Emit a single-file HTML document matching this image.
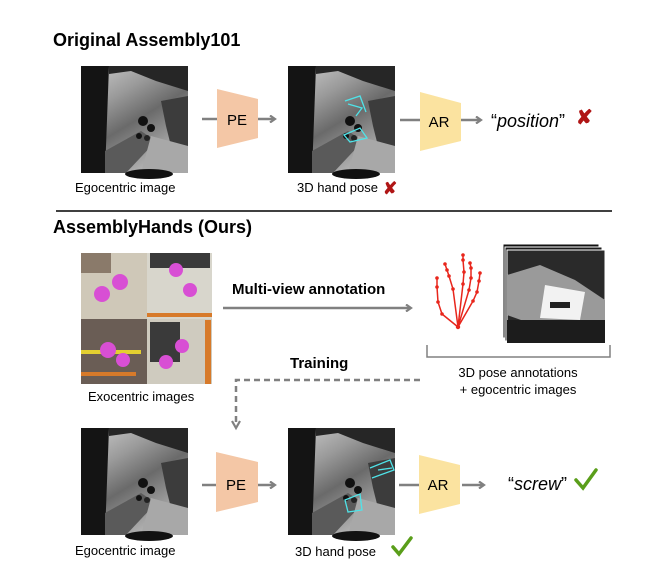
<!DOCTYPE html>
<html><head><meta charset="utf-8"><style>
html,body{margin:0;padding:0;background:#fff;}
svg{display:block;font-family:"Liberation Sans",Arial,sans-serif;}
</style></head><body>
<svg width="649" height="577" viewBox="0 0 649 577" xmlns="http://www.w3.org/2000/svg">
<defs>
<linearGradient id="ego" x1="0" y1="0" x2="0.6" y2="1">
<stop offset="0" stop-color="#d0d0d0"/><stop offset="0.35" stop-color="#9a9a9a"/><stop offset="0.6" stop-color="#6a6a6a"/><stop offset="1" stop-color="#b8b8b8"/>
</linearGradient>
<g id="egoimg">
<rect x="0" y="0" width="107" height="107" fill="url(#ego)"/>
<polygon points="0,0 28,0 24,107 0,107" fill="#141414"/>
<polygon points="28,0 107,0 107,25 75,15 50,5 28,8" fill="#262626"/>
<polygon points="80,35 107,30 107,100 95,100 85,60" fill="#3c3c3c"/>
<polygon points="24,85 60,65 75,75 45,107 24,107" fill="#5a5a5a"/>
<polygon points="70,70 107,80 107,107 60,107" fill="#a8a8a8"/>
<ellipse cx="68" cy="108" rx="24" ry="5" fill="#111"/>
<circle cx="62" cy="55" r="5" fill="#111"/><circle cx="70" cy="62" r="4" fill="#111"/><circle cx="58" cy="70" r="3" fill="#111"/><circle cx="66" cy="72" r="3" fill="#222"/>
</g>
<marker id="ah" markerWidth="8" markerHeight="8" refX="6" refY="4" orient="auto" markerUnits="userSpaceOnUse"><path d="M1,0.5 L6,4 L1,7.5" fill="none" stroke="#808080" stroke-width="2.2"/></marker>
</defs>

<text x="53" y="46" font-size="18" font-weight="bold" fill="#000">Original Assembly101</text>

<!-- top row -->
<use href="#egoimg" x="81" y="66"/>
<line x1="202" y1="119" x2="217" y2="119" stroke="#808080" stroke-width="2.5"/>
<polygon points="217,89 258,99 258,138 217,148" fill="#f4c7a6"/>
<text x="237" y="125" font-size="15" text-anchor="middle" fill="#000">PE</text>
<line x1="258" y1="119" x2="275" y2="119" stroke="#808080" stroke-width="2.5" marker-end="url(#ah)"/>
<use href="#egoimg" x="288" y="66"/>
<path d="M345,101 L360,96 L366,112 M348,104 L362,108 L356,116 M344,135 L360,128 L367,138 L350,142 Z" fill="none" stroke="#4fe3e8" stroke-width="1.3"/>
<line x1="400" y1="120" x2="420" y2="120" stroke="#808080" stroke-width="2.5"/>
<polygon points="420,92 461,103 461,141 420,151" fill="#fbe3a0"/>
<text x="439" y="127" font-size="15" text-anchor="middle" fill="#000">AR</text>
<line x1="461" y1="120" x2="481" y2="120" stroke="#808080" stroke-width="2.5" marker-end="url(#ah)"/>
<text x="491" y="127" font-size="18" fill="#000">“<tspan font-style="italic">position</tspan>”</text>
<text x="576" y="124" font-size="20" font-weight="bold" fill="#b01515">✘</text>
<text x="75" y="192" font-size="13" fill="#000">Egocentric image</text>
<text x="297" y="192" font-size="13" fill="#000">3D hand pose</text>
<text x="383" y="194" font-size="17" font-weight="bold" fill="#b01515">✘</text>

<line x1="56" y1="211" x2="612" y2="211" stroke="#000" stroke-width="1.5"/>

<text x="53" y="233" font-size="18" font-weight="bold" fill="#000">AssemblyHands (Ours)</text>

<!-- exo images -->
<rect x="81" y="253" width="66" height="66" fill="#cfc8b8"/>
<rect x="147" y="253" width="65" height="66" fill="#d8d6cc"/>
<rect x="81" y="319" width="66" height="65" fill="#6a5d55"/>
<rect x="147" y="319" width="65" height="65" fill="#cfcbbf"/>
<rect x="81" y="253" width="30" height="20" fill="#8a7a6a"/>
<rect x="150" y="253" width="60" height="15" fill="#3a3a3a"/>
<rect x="147" y="313" width="65" height="4" fill="#d77a2a"/>
<rect x="81" y="350" width="60" height="4" fill="#e3cf30"/>
<rect x="81" y="372" width="55" height="4" fill="#d77a2a"/>
<rect x="205" y="320" width="6" height="64" fill="#d77a2a"/>
<rect x="150" y="322" width="30" height="40" fill="#3a3a3a"/>
<g fill="#d84fd4">
<circle cx="120" cy="282" r="8"/><circle cx="102" cy="294" r="8"/><circle cx="176" cy="270" r="7"/><circle cx="190" cy="290" r="7"/>
<circle cx="108" cy="350" r="8"/><circle cx="123" cy="360" r="7"/><circle cx="182" cy="346" r="7"/><circle cx="166" cy="362" r="7"/>
</g>
<text x="88" y="401" font-size="13" fill="#000">Exocentric images</text>

<text x="232" y="294" font-size="15" font-weight="bold" fill="#000">Multi-view annotation</text>
<line x1="223" y1="308" x2="411" y2="308" stroke="#808080" stroke-width="2.5" marker-end="url(#ah)"/>

<!-- hand skeleton -->
<g fill="none" stroke="#e8261c" stroke-width="1.5">
<polyline points="437,278 437,287 438,302 442,314 458,327"/>
<polyline points="445,264 447,270 449,276 453,289 458,327"/>
<polyline points="463,255 463,260 464,272 463,284 458,327"/>
<polyline points="470,263 471,268 471,278 469,290 458,327"/>
<polyline points="480,273 479,281 477,292 473,301 458,327"/>
</g>
<g fill="#e8261c">
<circle cx="437" cy="278" r="1.8"/><circle cx="437" cy="287" r="1.8"/><circle cx="438" cy="302" r="1.8"/><circle cx="442" cy="314" r="1.8"/>
<circle cx="445" cy="264" r="1.8"/><circle cx="447" cy="270" r="1.8"/><circle cx="449" cy="276" r="1.8"/><circle cx="453" cy="289" r="1.8"/>
<circle cx="463" cy="255" r="1.8"/><circle cx="463" cy="260" r="1.8"/><circle cx="464" cy="272" r="1.8"/><circle cx="463" cy="284" r="1.8"/>
<circle cx="470" cy="263" r="1.8"/><circle cx="471" cy="268" r="1.8"/><circle cx="471" cy="278" r="1.8"/><circle cx="469" cy="290" r="1.8"/>
<circle cx="480" cy="273" r="1.8"/><circle cx="479" cy="281" r="1.8"/><circle cx="477" cy="292" r="1.8"/><circle cx="473" cy="301" r="1.8"/>
<circle cx="458" cy="327" r="2.2"/>
</g>

<!-- stacked ego images -->
<rect x="503" y="244" width="96" height="94" fill="#111" stroke="#fff" stroke-width="1"/>
<rect x="505" y="247" width="97" height="94" fill="#1a1a1a" stroke="#fff" stroke-width="1"/>
<g>
<rect x="507" y="250" width="98" height="93" fill="#2a2a2a" stroke="#fff" stroke-width="1"/>
<polygon points="507,275 540,265 575,280 605,300 605,325 560,320 535,325 507,315" fill="#9a9a9a"/>
<polygon points="545,285 585,292 580,320 540,318" fill="#f2f2f2"/>
<rect x="550" y="302" width="20" height="6" fill="#222"/>
<rect x="507" y="320" width="98" height="23" fill="#1c1c1c"/>
</g>

<path d="M427,345 L427,357 L610,357 L610,345" fill="none" stroke="#808080" stroke-width="1.5"/>
<text x="518" y="377" font-size="13" text-anchor="middle" fill="#000">3D pose annotations</text>
<text x="518" y="394" font-size="13" text-anchor="middle" fill="#000">+ egocentric images</text>

<text x="290" y="368" font-size="15" font-weight="bold" fill="#000">Training</text>
<path d="M420,380 L236,380 L236,425" fill="none" stroke="#808080" stroke-width="2.5" stroke-dasharray="6,4"/>
<path d="M232,421 L236,428 L240,421" fill="none" stroke="#808080" stroke-width="2.2"/>

<!-- bottom row -->
<use href="#egoimg" x="81" y="428"/>
<line x1="202" y1="485" x2="216" y2="485" stroke="#808080" stroke-width="2.5"/>
<polygon points="216,452 258,462 258,502 216,512" fill="#f4c7a6"/>
<text x="236" y="490" font-size="15" text-anchor="middle" fill="#000">PE</text>
<line x1="258" y1="485" x2="275" y2="485" stroke="#808080" stroke-width="2.5" marker-end="url(#ah)"/>
<use href="#egoimg" x="288" y="428"/>
<path d="M370,468 L390,460 L394,470 L372,478 M378,470 L392,468 M345,500 L360,494 L362,510 L348,512 Z" fill="none" stroke="#4fe3e8" stroke-width="1.3"/>
<line x1="399" y1="485" x2="419" y2="485" stroke="#808080" stroke-width="2.5"/>
<polygon points="419,455 460,465 460,504 419,514" fill="#fbe3a0"/>
<text x="438" y="490" font-size="15" text-anchor="middle" fill="#000">AR</text>
<line x1="462" y1="485" x2="484" y2="485" stroke="#808080" stroke-width="2.5" marker-end="url(#ah)"/>
<text x="508" y="490" font-size="18" fill="#000">“<tspan font-style="italic">screw</tspan>”</text>
<path d="M576,480 L583,488 L596,470" fill="none" stroke="#5a9e1a" stroke-width="3.5" stroke-linecap="round"/>
<text x="75" y="555" font-size="13" fill="#000">Egocentric image</text>
<text x="295" y="556" font-size="13" fill="#000">3D hand pose</text>
<path d="M393,547 L399,554 L411,538" fill="none" stroke="#5a9e1a" stroke-width="3.5" stroke-linecap="round"/>
</svg>
</body></html>
